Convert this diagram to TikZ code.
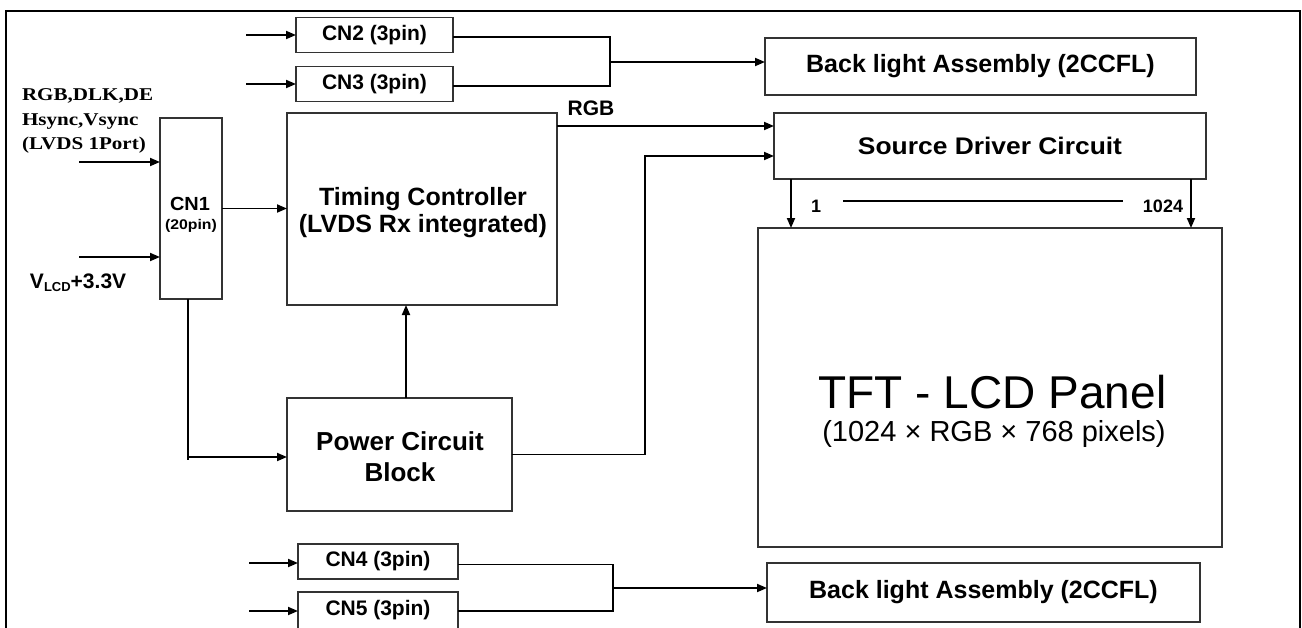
\documentclass[tikz,border=0pt]{standalone}
\usepackage{fontspec}
\setmainfont{Liberation Sans}
\newfontfamily\seriffont{Liberation Serif}
\usetikzlibrary{arrows.meta}
\newcommand{\fs}[1]{\fontsize{#1}{#1}\selectfont}
\newcommand{\sx}[2]{\scalebox{#1}[1]{#2}}
\begin{document}
\begin{tikzpicture}[x=1pt,y=-1pt,
  box/.style={draw=black!80, line width=1.2pt, inner sep=0pt, outer sep=0pt, align=center},
  lbl/.style={inner sep=0pt, outer sep=0pt},
  conn/.style={line width=1.8pt},
  arr/.style={conn, -{Triangle[length=10pt,width=8pt]}},
  ]
\useasboundingbox (0,0) rectangle (1302,627);
\draw[line width=1.4pt] (6,630) -- (6,11) -- (1300,11) -- (1300,630);

% boxes
\node[box, minimum width=157, minimum height=35, font=\bfseries\fs{21}] (cn2) at (374.5,35) {CN2 (3pin)};
\node[box, minimum width=157, minimum height=35, font=\bfseries\fs{21}] (cn3) at (374.5,84) {CN3 (3pin)};
\node[box, minimum width=431, minimum height=57, font=\bfseries\fs{25}] (bl1) at (980.5,66.5) {Back light Assembly (2CCFL)};
\node[box, minimum width=62, minimum height=181] (cn1) at (191,208.5) {};
\node[box, minimum width=270, minimum height=192] (tc) at (422,209) {};
\node[box, minimum width=432, minimum height=66, font=\bfseries\fs{24}] (sd) at (990,146) {\sx{1.1}{Source Driver Circuit}};
\node[box, minimum width=464, minimum height=319] (tft) at (990,387.5) {};
\node[box, minimum width=225, minimum height=113] (pwr) at (399.5,454.5) {};
\node[box, minimum width=160, minimum height=35, font=\bfseries\fs{21}] (cn4) at (378,561.5) {CN4 (3pin)};
\node[box, minimum width=160, minimum height=37, font=\bfseries\fs{21}, anchor=north] (cn5) at (378,592) {CN5 (3pin)};
\node[box, minimum width=433, minimum height=59, font=\bfseries\fs{25}] (bl2) at (983.5,592.5) {Back light Assembly (2CCFL)};

% texts
\node[lbl, anchor=base west, font=\seriffont\bfseries\fs{18}] (t1) at (22,100) {\sx{1.17}{RGB,DLK,DE}};
\node[lbl, anchor=base west, font=\seriffont\bfseries\fs{18}] (t2) at (22,125) {\sx{1.17}{Hsync,Vsync}};
\node[lbl, anchor=base west, font=\seriffont\bfseries\fs{18}] (t3) at (22,149) {\sx{1.17}{(LVDS 1Port)}};
\node[lbl, anchor=base west, font=\bfseries\fs{21}] (vl) at (30,288) {V\raisebox{-3pt}{\fs{13}LCD}+3.3V};
\node[lbl, anchor=base, font=\bfseries\fs{19}] (cn1a) at (190,210) {\sx{1.05}{CN1}};
\node[lbl, anchor=base, font=\bfseries\fs{14}] (cn1b) at (191,229) {\sx{1.13}{(20pin)}};
\node[lbl, anchor=base, font=\bfseries\fs{25}] (tca) at (423,205) {Timing Controller};
\node[lbl, anchor=base, font=\bfseries\fs{25}] (tcb) at (423,232) {(LVDS Rx integrated)};
\node[lbl, anchor=base, font=\bfseries\fs{26}] (pwa) at (400,450) {Power Circuit};
\node[lbl, anchor=base, font=\bfseries\fs{26}] (pwb) at (400,481) {Block};
\node[lbl, anchor=base, font=\fs{46}] (tfta) at (992.5,408) {TFT - LCD Panel};
\node[lbl, anchor=base, font=\fs{29}] (tftb) at (994,441) {(1024 × RGB × 768 pixels)};
\node[lbl, anchor=base, font=\bfseries\fs{21}] (rgb) at (591,115) {RGB};
\node[lbl, anchor=base, font=\bfseries\fs{18}] (n1) at (816,212) {1};
\node[lbl, anchor=base, font=\bfseries\fs{18}] (n1024) at (1163,212) {1024};

% connectors top
\coordinate (in2) at (246,35);
\coordinate (in3) at (246,84);
\draw[arr] (in2) -- (in2 -| cn2.west);
\draw[arr] (in3) -- (in3 -| cn3.west);
\coordinate (j1) at (610,62);
\draw[conn] ([yshift=-2pt]cn2.east) -- ([yshift=-2pt]cn2.east -| j1) -- ([yshift=-2pt]cn3.east -| j1) -- ([yshift=-2pt]cn3.east);
\draw[arr] (j1) -- (j1 -| bl1.west);

% CN1
\coordinate (ina) at (79,162);
\coordinate (inb) at (79,257);
\draw[arr] (ina) -- (ina -| cn1.west);
\draw[arr] (inb) -- (inb -| cn1.west);
\draw[arr] (cn1.east) -- (cn1.east -| tc.west);
\coordinate (c1) at (188,460);
\coordinate (c2) at (188,457);
\draw[conn] ([xshift=-3pt]cn1.south) -- (c1);
\draw[arr] (c2) -- (c2 -| pwr.west);
\draw[arr] ([xshift=6.5pt]pwr.north) -- ([xshift=6.5pt]pwr.north |- tc.south);

% to source driver
\draw[arr] ([yshift=-13pt]tc.north east) -- ([yshift=-13pt]tc.north east -| sd.west);
\coordinate (k) at (645,156);
\draw[arr] (pwr.east) -| (k) -- (k -| sd.west);

% source driver to panel
\draw[arr] ([xshift=17pt]sd.south west) -- ([xshift=17pt]sd.south west |- tft.north);
\draw[arr] ([xshift=-15pt]sd.south east) -- ([xshift=-15pt]sd.south east |- tft.north);
\coordinate (l1) at (843,201);
\coordinate (l2) at (1123,201);
\draw[conn] (l1) -- (l2);

% bottom
\coordinate (in4) at (249,563);
\coordinate (in5) at (249,611);
\draw[arr] (in4) -- (in4 -| cn4.west);
\draw[arr] (in5) -- (in5 -| cn5.west);
\coordinate (j2) at (613,588);
\draw[conn] ([yshift=-3pt]cn4.east) -- ([yshift=-3pt]cn4.east -| j2) -- (in5 -| j2) -- (in5 -| cn5.east);
\draw[arr] (j2) -- (j2 -| bl2.west);
\end{tikzpicture}
\end{document}
